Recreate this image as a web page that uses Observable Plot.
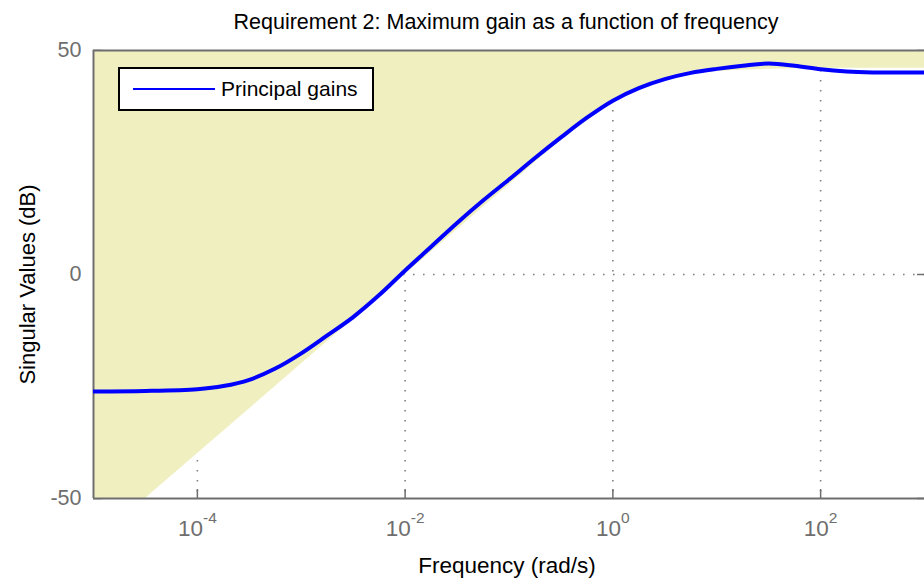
<!DOCTYPE html>
<html>
<head>
<meta charset="utf-8">
<script src="https://cdn.jsdelivr.net/npm/d3@7"></script>
<script src="https://cdn.jsdelivr.net/npm/@observablehq/plot@0.6"></script>
<style>
  html, body { margin: 0; padding: 0; background: #fff; }
  #wrap { position: relative; width: 924px; height: 578px; overflow: hidden;
          font-family: "Liberation Sans", Arial, Helvetica, sans-serif; }
  #legend { position: absolute; left: 118px; top: 67px; width: 256px; height: 44px;
            box-sizing: border-box; border: 2px solid #000; background: #fff;
            display: flex; align-items: center; font-size: 21px; color: #000; }
  #legend .item { display: flex; align-items: center; }
  #legend svg { margin-left: 13px; margin-right: 6px; }
</style>
</head>
<body>
<div id="wrap"></div>
<script>
// ---- Texts ----
const title = "Requirement 2: Maximum gain as a function of frequency";
const xLabel = "Frequency (rad/s)";
const yLabel = "Singular Values (dB)";
const seriesNames = ["Principal gains"];
const seriesColors = ["#0000ff"];

// ---- Axes ----
const xDomain = [1e-5, 1e3];
const yDomain = [-50, 50];
const xTickExponents = [-4, -2, 0, 2];
const yTicks = [-50, 0, 50];

// ---- Principal gains curve (log10 frequency, dB) ----
const gainFreqExp = [-5, -4.5, -4, -3.75, -3.5, -3.25, -3, -2.75, -2.5, -2.25, -2, -1.75, -1.5, -1.25, -1,
                     -0.75, -0.5, -0.25, 0, 0.25, 0.5, 0.75, 1, 1.25, 1.5, 1.75, 2, 2.25, 2.5, 3];
const gainDb = [-26.1, -26.0, -25.6, -24.9, -23.5, -21.0, -17.6, -13.6, -9.5, -4.6, 0.9, 6.2, 11.5, 16.5, 21.2,
                26.0, 30.6, 35.0, 38.8, 41.6, 43.6, 45.0, 45.9, 46.6, 47.1, 46.6, 45.8, 45.3, 45.1, 45.1];

// ---- Maximum gain requirement (lower edge of shaded region) ----
const boundFreqExp = [-5, -4, -3, -2, -1.5, -1, -0.5, -0.25, 0, 0.25, 0.5, 0.75, 1, 1.5, 2, 3];
const boundDb = [-60, -40, -20, 0, 10, 20, 29.8, 34.2, 38.3, 41.2, 43.3, 44.6, 45.3, 45.8, 46.0, 46.0];

const gray = "#6e6e6e";
const font = '"Liberation Sans", Arial, Helvetica, sans-serif';
const gainData = gainFreqExp.map((e, i) => ({f: 10 ** e, db: gainDb[i]}));
const boundData = boundFreqExp.map((e, i) => ({f: 10 ** e, lo: boundDb[i], hi: yDomain[1]}));
const xTicks = xTickExponents.map(e => 10 ** e);

const chart = Plot.plot({
  width: 924,
  height: 578,
  marginTop: 50,
  marginLeft: 93,
  marginRight: 0,
  marginBottom: 80,
  x: {type: "log", domain: xDomain, label: null},
  y: {domain: yDomain, label: null},
  style: {fontFamily: font, fontSize: "21.5px", background: "white", color: "black"},
  marks: [
    // dotted grid
    Plot.ruleX(xTicks, {stroke: "#808080", strokeWidth: 1.6, strokeDasharray: "1.6,8.4"}),
    Plot.ruleY([0], {stroke: "#808080", strokeWidth: 1.6, strokeDasharray: "1.6,8.4"}),
    // inward tick marks
    Plot.axisY({ticks: yTicks, anchor: "left", tickSize: -9, stroke: gray, strokeWidth: 1.5, fill: "none", label: null}),
    Plot.axisY({ticks: yTicks, anchor: "right", tickSize: -8, stroke: gray, strokeWidth: 1.5, fill: "none", label: null}),
    Plot.axisX({ticks: xTicks, anchor: "bottom", tickSize: -9, stroke: gray, strokeWidth: 1.5, fill: "none", label: null}),
    // shaded forbidden region
    Plot.areaY(boundData, {x: "f", y1: "lo", y2: "hi", fill: "#f0efc0", curve: "catmull-rom", clip: true}),
    // frame lines
    Plot.ruleY([yDomain[1]], {stroke: gray, strokeWidth: 2}),
    Plot.ruleY([yDomain[0]], {stroke: gray, strokeWidth: 2}),
    Plot.ruleX([xDomain[0]], {stroke: gray, strokeWidth: 2}),
    // principal gains
    Plot.line(gainData, {x: "f", y: "db", stroke: seriesColors[0], strokeWidth: 4, curve: "catmull-rom", clip: true}),
    // tick labels
    Plot.axisY({ticks: yTicks, anchor: "left", tickSize: 0, tickPadding: 12, fill: gray, fontSize: 21.5,
                tickFormat: d => String(d), label: null}),
    Plot.axisX({ticks: xTicks, anchor: "bottom", tickSize: 0, tickPadding: 22, fill: gray, fontSize: 22.5,
                tickFormat: d => "10^" + Math.round(Math.log10(d)), label: null}),
    // title and axis titles
    Plot.text([title], {frameAnchor: "top", lineAnchor: "middle", textAnchor: "middle", dy: -28, dx: -3, fill: "black"}),
    Plot.text([xLabel], {frameAnchor: "bottom", lineAnchor: "middle", textAnchor: "middle", dy: 67, dx: -2, fill: "black", fontSize: 22.5}),
    Plot.text([yLabel], {frameAnchor: "left", lineAnchor: "middle", textAnchor: "middle", rotate: -90, dx: -66, dy: 10, fill: "black", fontSize: 22})
  ]
});

// superscript exponents for the log tick labels
d3.select(chart).selectAll("text").each(function () {
  const m = /^10\^(-?\d+)$/.exec(this.textContent);
  if (!m) return;
  const t = d3.select(this);
  t.text("10");
  t.append("tspan").attr("dy", -13).attr("font-size", 15.5).text(m[1]);
});

const wrap = document.getElementById("wrap");
wrap.appendChild(chart);

// legend
const legend = document.createElement("div");
legend.id = "legend";
seriesNames.forEach((name, i) => {
  const item = document.createElement("div");
  item.className = "item";
  item.innerHTML = `<svg width="82" height="6"><line x1="0" y1="3" x2="82" y2="3" stroke="${seriesColors[i]}" stroke-width="2"/></svg><span>${name}</span>`;
  legend.appendChild(item);
});
wrap.appendChild(legend);
</script>
</body>
</html>
